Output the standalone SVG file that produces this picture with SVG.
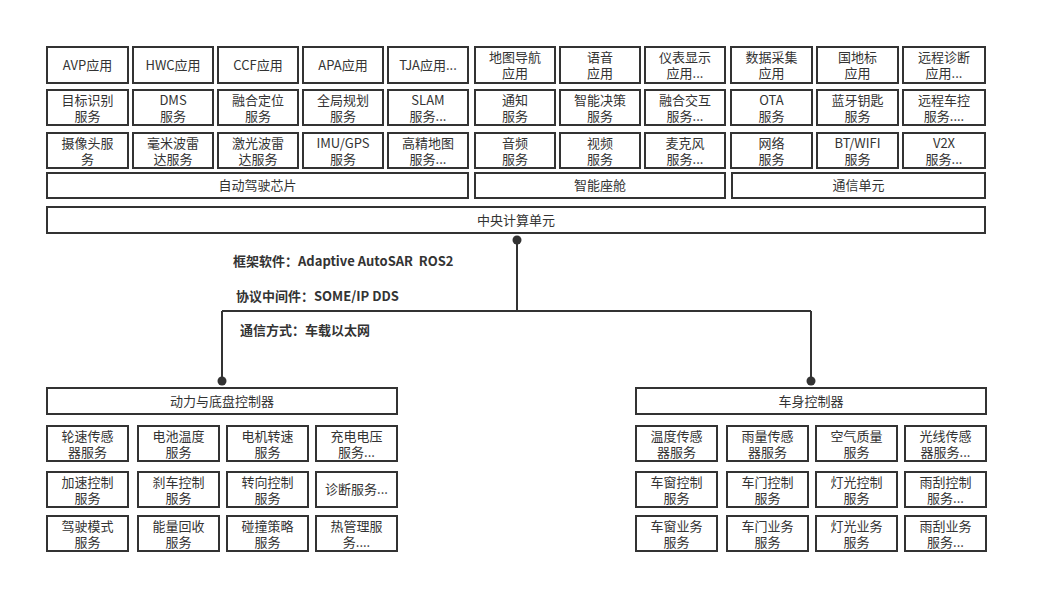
<svg xmlns="http://www.w3.org/2000/svg" width="1048" height="613" viewBox="0 0 1048 613">
<style>
rect{fill:#fff;stroke:#333;stroke-width:2}
text{font-family:"Microsoft YaHei","Noto Sans CJK SC","Noto Sans",sans-serif;font-size:13px;fill:#333;text-anchor:middle}
.lbl{font-weight:bold;text-anchor:start}
.ln{fill:none;stroke:#333;stroke-width:2}
.dot{fill:#333}
</style>
<rect x="0" y="0" width="1048" height="613" style="stroke:none"/>
<g id="top-left">
<g id="n-avp"><rect x="47" y="47" width="81" height="36"/><text x="87.5" y="70">AVP应用</text></g>
<g id="n-hwc"><rect x="133" y="47" width="80" height="36"/><text x="173" y="70">HWC应用</text></g>
<g id="n-ccf"><rect x="218" y="47" width="80" height="36"/><text x="258" y="70">CCF应用</text></g>
<g id="n-apa"><rect x="303" y="47" width="80" height="36"/><text x="343" y="70">APA应用</text></g>
<g id="n-tja"><rect x="388" y="47" width="80" height="36"/><text x="428" y="70">TJA应用...</text></g>
<g id="n-mbsb"><rect x="47" y="90" width="81" height="35"/><text x="87.5" y="105">目标识别</text><text x="87.5" y="121">服务</text></g>
<g id="n-dms"><rect x="133" y="90" width="80" height="35"/><text x="173" y="105">DMS</text><text x="173" y="121">服务</text></g>
<g id="n-rhdw"><rect x="218" y="90" width="80" height="35"/><text x="258" y="105">融合定位</text><text x="258" y="121">服务</text></g>
<g id="n-qjgh"><rect x="303" y="90" width="80" height="35"/><text x="343" y="105">全局规划</text><text x="343" y="121">服务</text></g>
<g id="n-slam"><rect x="388" y="90" width="80" height="35"/><text x="428" y="105">SLAM</text><text x="428" y="121">服务...</text></g>
<g id="n-sxt"><rect x="47" y="133" width="81" height="35"/><text x="87.5" y="148">摄像头服</text><text x="87.5" y="164">务</text></g>
<g id="n-hmb"><rect x="133" y="133" width="80" height="35"/><text x="173" y="148">毫米波雷</text><text x="173" y="164">达服务</text></g>
<g id="n-jg"><rect x="218" y="133" width="80" height="35"/><text x="258" y="148">激光波雷</text><text x="258" y="164">达服务</text></g>
<g id="n-imu"><rect x="303" y="133" width="80" height="35"/><text x="343" y="148">IMU/GPS</text><text x="343" y="164">服务</text></g>
<g id="n-gjdt"><rect x="388" y="133" width="80" height="35"/><text x="428" y="148">高精地图</text><text x="428" y="164">服务...</text></g>
<g id="n-chip"><rect x="47" y="173" width="421" height="25"/><text x="257.5" y="190">自动驾驶芯片</text></g>
</g>
<g id="top-right">
<g id="n-dtdh"><rect x="475" y="47" width="80" height="36"/><text x="515" y="62">地图导航</text><text x="515" y="78">应用</text></g>
<g id="n-yy"><rect x="560" y="47" width="80" height="36"/><text x="600" y="62">语音</text><text x="600" y="78">应用</text></g>
<g id="n-ybxs"><rect x="645" y="47" width="80" height="36"/><text x="685" y="62">仪表显示</text><text x="685" y="78">应用...</text></g>
<g id="n-sjcj"><rect x="731" y="47" width="81" height="36"/><text x="771.5" y="62">数据采集</text><text x="771.5" y="78">应用</text></g>
<g id="n-gdb"><rect x="817" y="47" width="81" height="36"/><text x="857.5" y="62">国地标</text><text x="857.5" y="78">应用</text></g>
<g id="n-ycz"><rect x="903" y="47" width="82" height="36"/><text x="944" y="62">远程诊断</text><text x="944" y="78">应用...</text></g>
<g id="n-tz"><rect x="475" y="90" width="80" height="35"/><text x="515" y="105">通知</text><text x="515" y="121">服务</text></g>
<g id="n-znjc"><rect x="560" y="90" width="80" height="35"/><text x="600" y="105">智能决策</text><text x="600" y="121">服务</text></g>
<g id="n-rhjh"><rect x="645" y="90" width="80" height="35"/><text x="685" y="105">融合交互</text><text x="685" y="121">服务...</text></g>
<g id="n-ota"><rect x="731" y="90" width="81" height="35"/><text x="771.5" y="105">OTA</text><text x="771.5" y="121">服务</text></g>
<g id="n-lyys"><rect x="817" y="90" width="81" height="35"/><text x="857.5" y="105">蓝牙钥匙</text><text x="857.5" y="121">服务</text></g>
<g id="n-yccc"><rect x="903" y="90" width="82" height="35"/><text x="944" y="105">远程车控</text><text x="944" y="121">服务....</text></g>
<g id="n-yp"><rect x="475" y="133" width="80" height="35"/><text x="515" y="148">音频</text><text x="515" y="164">服务</text></g>
<g id="n-sp"><rect x="560" y="133" width="80" height="35"/><text x="600" y="148">视频</text><text x="600" y="164">服务</text></g>
<g id="n-mkf"><rect x="645" y="133" width="80" height="35"/><text x="685" y="148">麦克风</text><text x="685" y="164">服务...</text></g>
<g id="n-wl"><rect x="731" y="133" width="81" height="35"/><text x="771.5" y="148">网络</text><text x="771.5" y="164">服务</text></g>
<g id="n-bt"><rect x="817" y="133" width="81" height="35"/><text x="857.5" y="148">BT/WIFI</text><text x="857.5" y="164">服务</text></g>
<g id="n-v2x"><rect x="903" y="133" width="82" height="35"/><text x="944" y="148">V2X</text><text x="944" y="164">服务...</text></g>
<g id="n-cockpit"><rect x="475" y="173" width="250" height="25"/><text x="600" y="190">智能座舱</text></g>
<g id="n-comm"><rect x="732" y="173" width="253" height="25"/><text x="858.5" y="190">通信单元</text></g>
</g>
<g id="n-central"><rect x="47" y="207" width="938" height="26"/><text x="516" y="225">中央计算单元</text></g>
<g id="connectors">
<path class="ln" d="M517 240 V311 M222 311 H811 M222 311 V381 M811 311 V381"/>
<circle class="dot" cx="517" cy="240" r="4.5"/>
<circle class="dot" cx="222" cy="381" r="4.5"/>
<circle class="dot" cx="811" cy="381" r="4.5"/>
</g>
<g id="labels">
<text class="lbl" x="233" y="266" xml:space="preserve">框架软件：Adaptive AutoSAR  ROS2</text>
<text class="lbl" x="236" y="301">协议中间件：SOME/IP DDS</text>
<text class="lbl" x="240" y="335">通信方式：车载以太网</text>
</g>
<g id="bottom-left">
<g id="n-power"><rect x="47" y="388" width="350" height="26"/><text x="222" y="406">动力与底盘控制器</text></g>
<g id="n-lscg"><rect x="47" y="426" width="81" height="35"/><text x="87.5" y="441">轮速传感</text><text x="87.5" y="457">器服务</text></g>
<g id="n-dcwd"><rect x="138" y="426" width="81" height="35"/><text x="178.5" y="441">电池温度</text><text x="178.5" y="457">服务</text></g>
<g id="n-djzs"><rect x="227" y="426" width="81" height="35"/><text x="267.5" y="441">电机转速</text><text x="267.5" y="457">服务</text></g>
<g id="n-cddy"><rect x="316" y="426" width="81" height="35"/><text x="356.5" y="441">充电电压</text><text x="356.5" y="457">服务...</text></g>
<g id="n-jskz"><rect x="47" y="472" width="81" height="35"/><text x="87.5" y="487">加速控制</text><text x="87.5" y="503">服务</text></g>
<g id="n-sckz"><rect x="138" y="472" width="81" height="35"/><text x="178.5" y="487">刹车控制</text><text x="178.5" y="503">服务</text></g>
<g id="n-zxkz"><rect x="227" y="472" width="81" height="35"/><text x="267.5" y="487">转向控制</text><text x="267.5" y="503">服务</text></g>
<g id="n-zdfw"><rect x="316" y="472" width="81" height="35"/><text x="356.5" y="494">诊断服务...</text></g>
<g id="n-jsms"><rect x="47" y="516" width="81" height="35"/><text x="87.5" y="531">驾驶模式</text><text x="87.5" y="547">服务</text></g>
<g id="n-nlhs"><rect x="138" y="516" width="81" height="35"/><text x="178.5" y="531">能量回收</text><text x="178.5" y="547">服务</text></g>
<g id="n-pzcl"><rect x="227" y="516" width="81" height="35"/><text x="267.5" y="531">碰撞策略</text><text x="267.5" y="547">服务</text></g>
<g id="n-rgl"><rect x="316" y="516" width="81" height="35"/><text x="356.5" y="531">热管理服</text><text x="356.5" y="547">务....</text></g>
</g>
<g id="bottom-right">
<g id="n-body"><rect x="636" y="388" width="350" height="26"/><text x="811" y="406">车身控制器</text></g>
<g id="n-wdcg"><rect x="636" y="426" width="81" height="35"/><text x="676.5" y="441">温度传感</text><text x="676.5" y="457">器服务</text></g>
<g id="n-ylcg"><rect x="727" y="426" width="81" height="35"/><text x="767.5" y="441">雨量传感</text><text x="767.5" y="457">器服务</text></g>
<g id="n-kqzl"><rect x="816" y="426" width="81" height="35"/><text x="856.5" y="441">空气质量</text><text x="856.5" y="457">服务</text></g>
<g id="n-gxcg"><rect x="905" y="426" width="81" height="35"/><text x="945.5" y="441">光线传感</text><text x="945.5" y="457">器服务...</text></g>
<g id="n-cckz"><rect x="636" y="472" width="81" height="35"/><text x="676.5" y="487">车窗控制</text><text x="676.5" y="503">服务</text></g>
<g id="n-cmkz"><rect x="727" y="472" width="81" height="35"/><text x="767.5" y="487">车门控制</text><text x="767.5" y="503">服务</text></g>
<g id="n-dgkz"><rect x="816" y="472" width="81" height="35"/><text x="856.5" y="487">灯光控制</text><text x="856.5" y="503">服务</text></g>
<g id="n-ygkz"><rect x="905" y="472" width="81" height="35"/><text x="945.5" y="487">雨刮控制</text><text x="945.5" y="503">服务...</text></g>
<g id="n-ccyw"><rect x="636" y="516" width="81" height="35"/><text x="676.5" y="531">车窗业务</text><text x="676.5" y="547">服务</text></g>
<g id="n-cmyw"><rect x="727" y="516" width="81" height="35"/><text x="767.5" y="531">车门业务</text><text x="767.5" y="547">服务</text></g>
<g id="n-dgyw"><rect x="816" y="516" width="81" height="35"/><text x="856.5" y="531">灯光业务</text><text x="856.5" y="547">服务</text></g>
<g id="n-ygyw"><rect x="905" y="516" width="81" height="35"/><text x="945.5" y="531">雨刮业务</text><text x="945.5" y="547">服务...</text></g>
</g>
</svg>
